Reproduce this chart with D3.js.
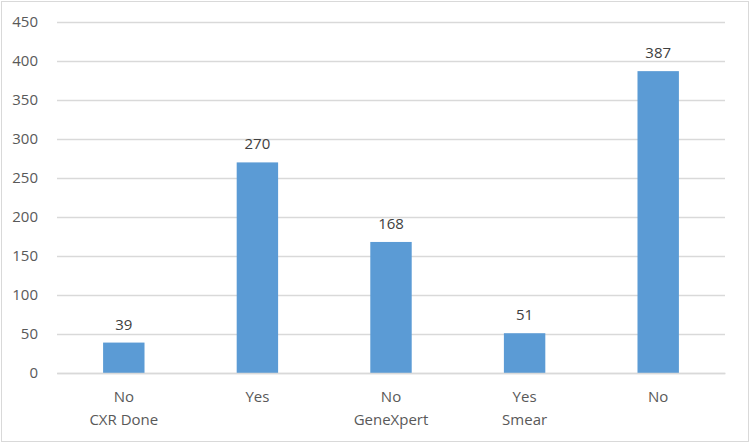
<!DOCTYPE html>
<html><head><meta charset="utf-8">
<script src="https://cdn.jsdelivr.net/npm/d3@7"></script>
<style>body{margin:0;background:#fff;}text{font-family:"Open Sans",sans-serif;}</style>
</head><body><svg id="c" width="751" height="444"></svg>
<script>
const categories = ["No", "Yes", "No", "Yes", "No"];
const groups = ["CXR Done", "", "GeneXpert", "Smear", ""];
const values = [39, 270, 168, 51, 387];
const yTicks = [0, 50, 100, 150, 200, 250, 300, 350, 400, 450];

const W = 751, H = 444;
const m = {left: 57, right: 26, top: 22, bottom: 71};
const svg = d3.select("#c");
svg.append("rect").attr("x", 1.5).attr("y", 1.5).attr("width", W - 4).attr("height", H - 4)
  .attr("fill", "#fff").attr("stroke", "#D9D9D9");

const idx = d3.range(values.length);
const x = d3.scaleBand().domain(idx).range([m.left, W - m.right]).paddingInner(0.69).paddingOuter(0.345);
const y = d3.scaleLinear().domain([0, 450]).range([H - m.bottom, m.top]);

const gy = svg.append("g").attr("transform", `translate(${m.left},0)`)
  .call(d3.axisLeft(y).tickValues(yTicks).tickSize(-(W - m.left - m.right)).tickPadding(19));
gy.select(".domain").remove();
gy.selectAll(".tick line").attr("stroke", "#D9D9D9").attr("stroke-width", 1.3);
gy.selectAll(".tick text").attr("fill", "#595959").style("font-size", "15px");

svg.append("g").selectAll("rect").data(values).join("rect")
  .attr("x", (d, i) => x(i)).attr("width", x.bandwidth())
  .attr("y", d => y(d)).attr("height", d => y(0) - y(d))
  .attr("fill", "#5B9BD5");

svg.append("g").selectAll("text").data(values).join("text")
  .attr("x", (d, i) => x(i) + x.bandwidth() / 2).attr("y", d => y(d) - 13)
  .attr("text-anchor", "middle").attr("fill", "#404040").style("font-size", "15px").text(d => d);

const gx = svg.append("g").attr("transform", `translate(0,${y(0)})`)
  .call(d3.axisBottom(x).tickSize(0).tickFormat((d) => categories[d]).tickPadding(18));
gx.select(".domain").attr("stroke", "#D9D9D9").attr("stroke-width", 1.3);
gx.selectAll(".tick text").attr("fill", "#595959").style("font-size", "15px");

svg.append("g").selectAll("text").data(groups).join("text")
  .attr("x", (d, i) => x(i) + x.bandwidth() / 2).attr("y", y(0) + 52)
  .attr("text-anchor", "middle").attr("fill", "#595959").style("font-size", "15px").text(d => d);
</script></body></html>
